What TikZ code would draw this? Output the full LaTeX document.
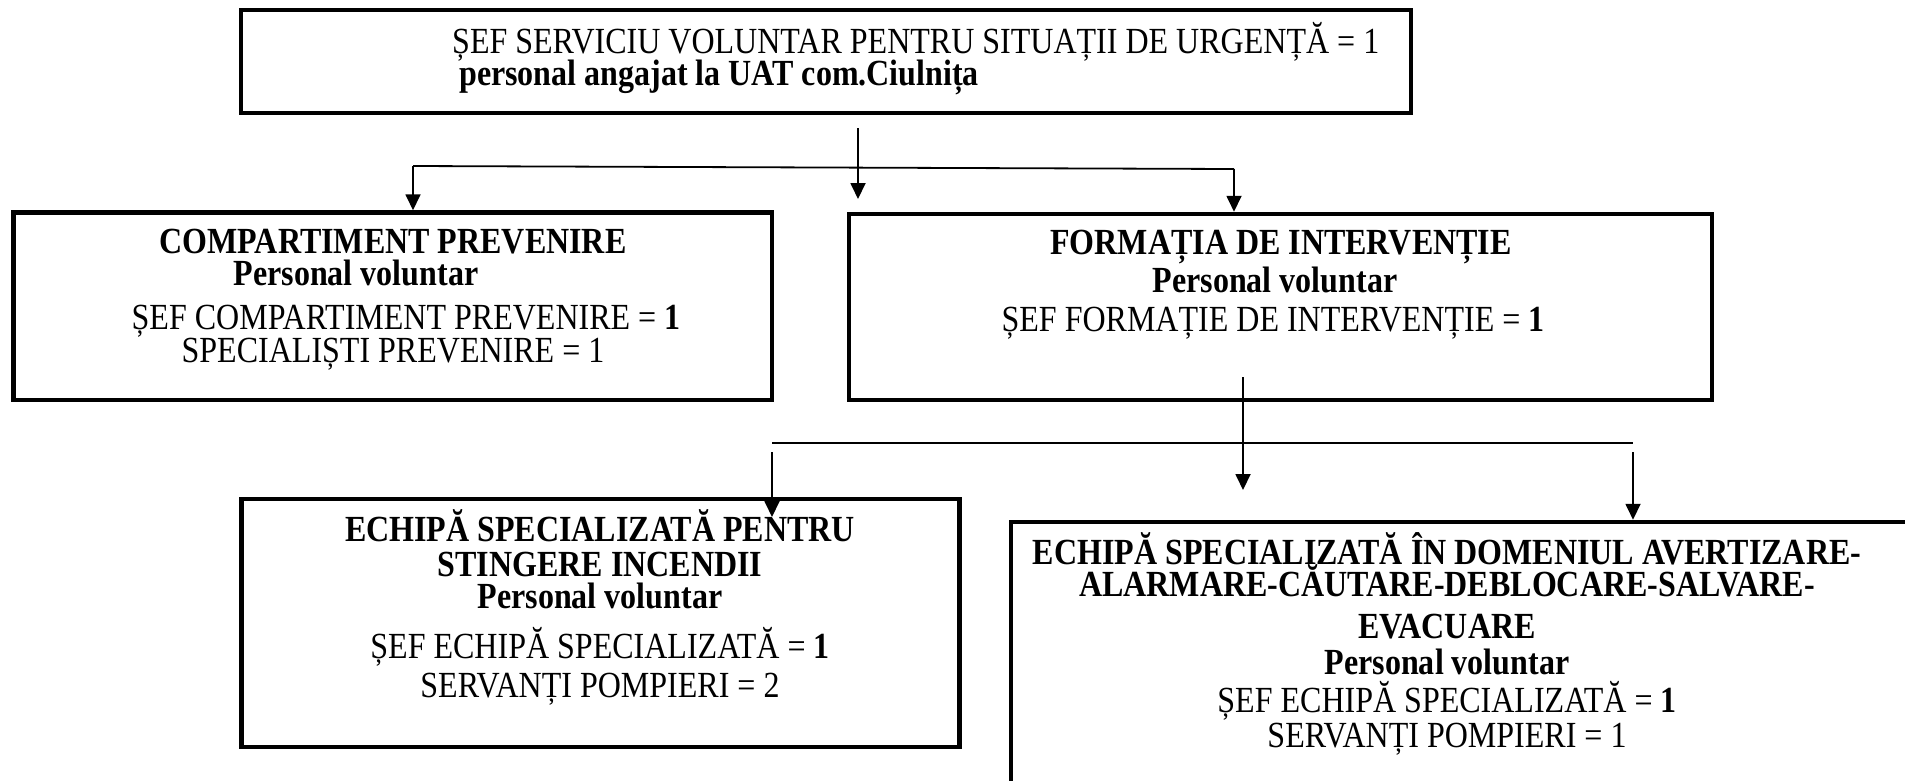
\documentclass[tikz,border=0pt]{standalone}
\usepackage{fontspec}
\setmainfont{Liberation Serif}[FakeStretch=0.87]
\usetikzlibrary{arrows.meta}
\tikzset{
  boxst/.style={draw, line width=4.5pt, rectangle, inner sep=0pt},
  conn/.style={line width=1.8pt},
  arr/.style={conn, -{Triangle[width=15pt,length=16pt]}},
  tx/.style={anchor=base, inner sep=0pt, font=\fontsize{36.8}{40}\selectfont},
  txb/.style={tx, font=\fontsize{36.8}{40}\selectfont\bfseries},
  txl/.style={anchor=base west, inner sep=0pt, font=\fontsize{36.8}{40}\selectfont},
  txlb/.style={txl, font=\fontsize{36.8}{40}\selectfont\bfseries}
}
\begin{document}
\begin{tikzpicture}[x=1pt,y=-1pt]
\useasboundingbox (0,0) rectangle (1905,780);
\clip (0,0) rectangle (1905,780);
\fill[white] (0,0) rectangle (1905,780);

% boxes
\node[boxst, minimum width=1170pt, minimum height=103pt] (b1) at (826,61.5) {};
\node[boxst, minimum width=758.5pt, minimum height=187.5pt] (b2) at (392.75,306.25) {};
\node[boxst, minimum width=863pt, minimum height=186pt] (b3) at (1280.5,307) {};
\node[boxst, minimum width=718pt, minimum height=248pt] (b4) at (600.5,623) {};
\node[boxst, minimum width=949pt, minimum height=298pt] (b5) at (1485.5,671) {};

% texts top box
\node[txl] (t1a) at (452,53) {ȘEF SERVICIU VOLUNTAR PENTRU SITUAȚII DE URGENȚĂ = 1};
\node[txlb] (t1b) at (459,85) {personal angajat la UAT com.Ciulnița};

% box 2
\node[txb] (t2a) at (393,253) {COMPARTIMENT PREVENIRE};
\node[txb] (t2b) at (356,285) {Personal voluntar};
\node[tx] (t2c) at (406,329) {ȘEF COMPARTIMENT PREVENIRE = \textbf{1}};
\node[tx] (t2d) at (393,362) {SPECIALIȘTI PREVENIRE = 1};

% box 3
\node[txb] (t3a) at (1281,254) {FORMAȚIA DE INTERVENȚIE};
\node[txb] (t3b) at (1275,292) {Personal voluntar};
\node[tx] (t3c) at (1273,331) {ȘEF FORMAȚIE DE INTERVENȚIE = \textbf{1}};

% box 4
\node[txb] (t4a) at (600,541) {ECHIPĂ SPECIALIZATĂ PENTRU};
\node[txb] (t4b) at (600,576) {STINGERE INCENDII};
\node[txb] (t4c) at (600,608) {Personal voluntar};
\node[tx] (t4d) at (600,658) {ȘEF ECHIPĂ SPECIALIZATĂ = \textbf{1}};
\node[tx] (t4e) at (600,697) {SERVANȚI POMPIERI = 2};

% box 5
\node[txb] (t5a) at (1447,564) {ECHIPĂ SPECIALIZATĂ ÎN DOMENIUL AVERTIZARE-};
\node[txb] (t5b) at (1447,596) {ALARMARE-CĂUTARE-DEBLOCARE-SALVARE-};
\node[txb] (t5c) at (1447,638) {EVACUARE};
\node[txb] (t5d) at (1447,674) {Personal voluntar};
\node[tx] (t5e) at (1447,712) {ȘEF ECHIPĂ SPECIALIZATĂ = \textbf{1}};
\node[tx] (t5f) at (1447,747) {SERVANȚI POMPIERI = 1};

% connectors level 1
\coordinate (c0) at (858,128);
\coordinate (c0e) at (858,199);
\coordinate (h1l) at (413,166);
\coordinate (h1r) at (1234,169);
\draw[conn] (h1l) -- (h1r);
\draw[arr] (c0) -- (c0e);
\draw[arr] (h1l) -- (h1l |- b2.north);
\draw[arr] (h1r) -- (h1r |- b3.north);

% connectors level 2
\coordinate (c1) at (1243,377);
\coordinate (c1e) at (1243,490);
\coordinate (h2l) at (772,443);
\coordinate (h2r) at (1633,443);
\coordinate (v2l) at (772,452);
\coordinate (v2le) at (772,517);
\coordinate (v2r) at (1633,452);
\draw[conn] (h2l) -- (h2r);
\draw[arr] (c1) -- (c1e);
\draw[arr] (v2l) -- (v2le);
\draw[arr] (v2r) -- (v2r |- b5.north);
\end{tikzpicture}
\end{document}
